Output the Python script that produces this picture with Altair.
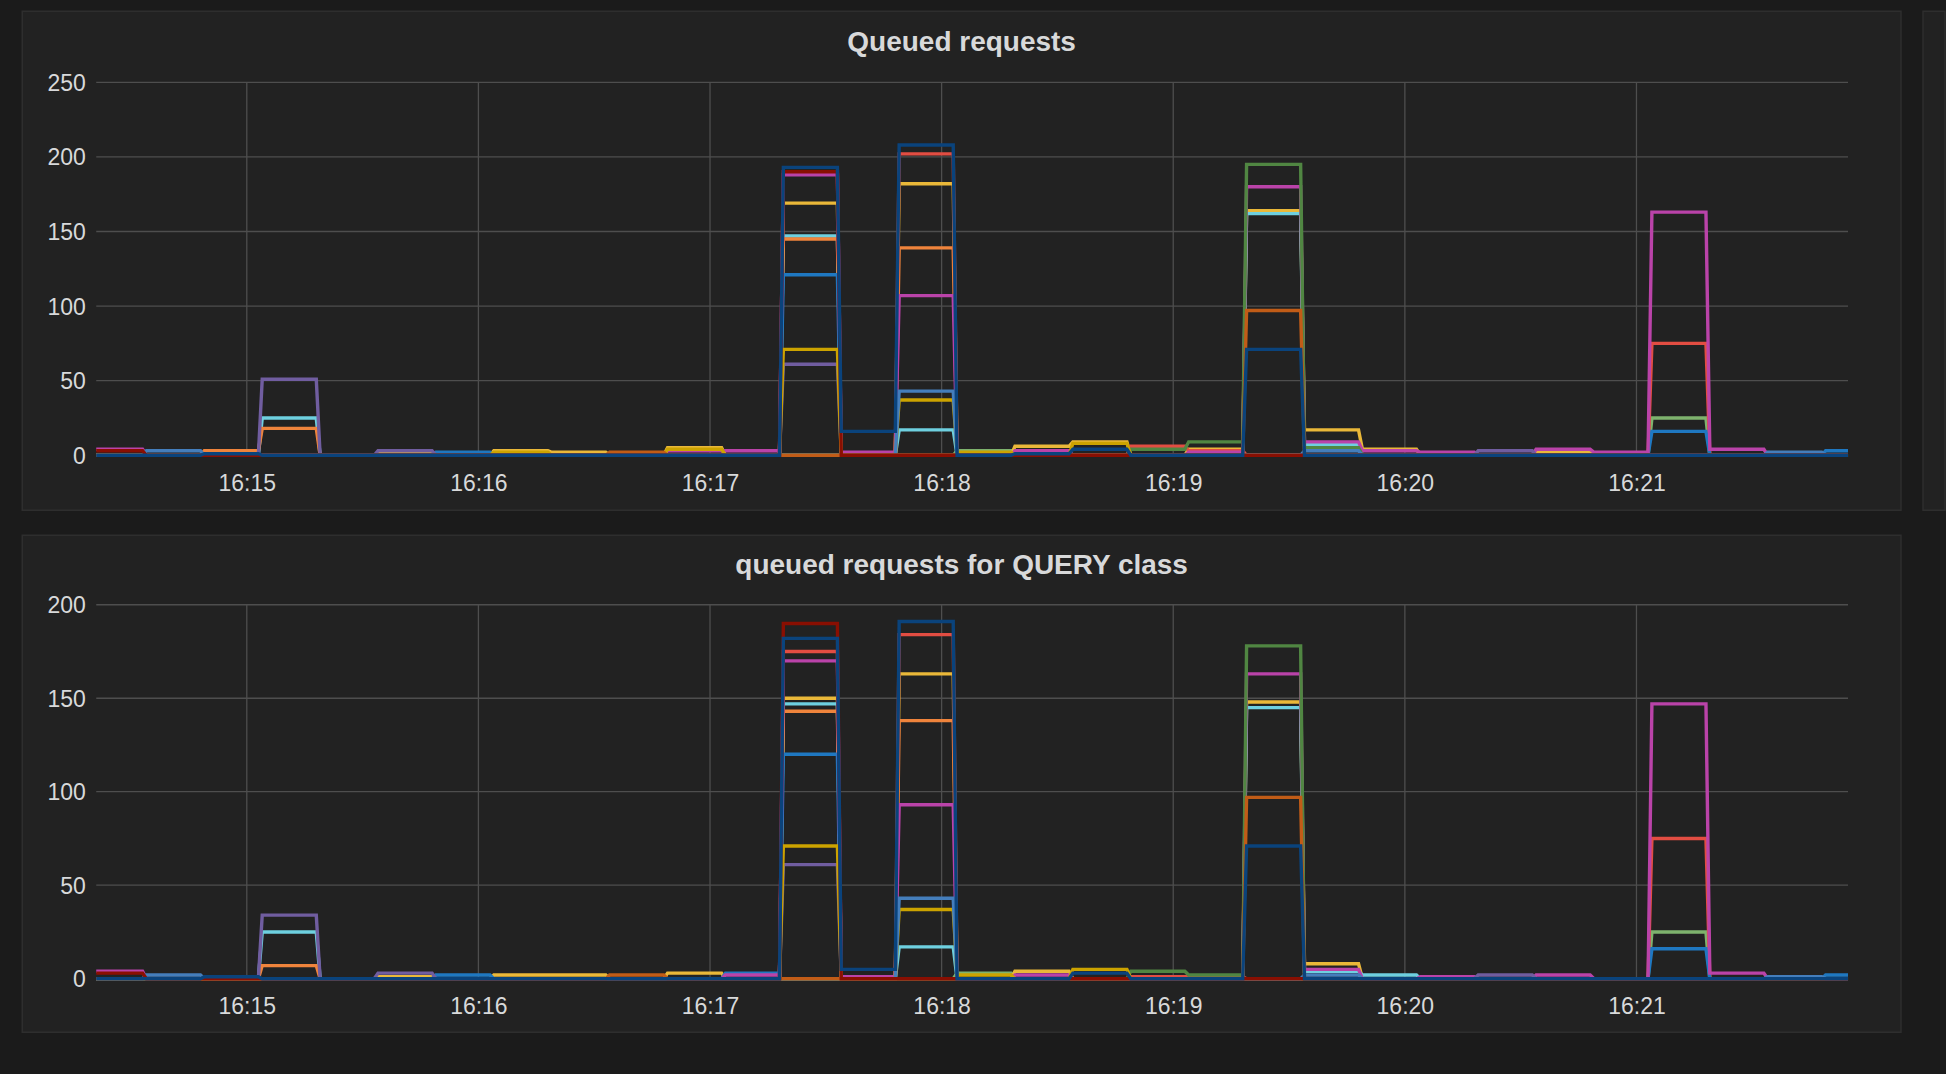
import altair as alt
import pandas as pd
from datetime import datetime, timedelta

# ---------------- data ----------------
SERIES = ["green", "yellow", "light blue", "orange", "red", "blue", "magenta",
          "purple", "dark green", "dark yellow", "steel blue", "dark orange",
          "dark red", "dark blue"]
COLORS = ["#7EB26D", "#EAB839", "#6ED0E0", "#EF843C", "#E24D42", "#1F78C1",
          "#BA43A9", "#705DA0", "#508642", "#CCA300", "#447EBC", "#C15C17",
          "#890F02", "#0A437C"]

# 15-second sample slots (start times)
SLOT_STARTS = ["16:14:18", "16:14:33", "16:14:48", "16:15:03", "16:15:18", "16:15:33",
               "16:15:48", "16:16:03", "16:16:18", "16:16:33", "16:16:48", "16:17:03",
               "16:17:18", "16:17:33", "16:17:48", "16:18:03", "16:18:18", "16:18:33",
               "16:18:48", "16:19:03", "16:19:18", "16:19:33", "16:19:48", "16:20:03",
               "16:20:18", "16:20:33", "16:20:48", "16:21:03", "16:21:18", "16:21:33",
               "16:21:48"]

TITLES = ["Queued requests", "queued requests for QUERY class"]

# Panel 1: Queued requests
TOP_GREEN       = [0,0,0,0,0,0,0,0,0,0,4,0,0,0,0,3,0,0,0,0,0,0,0,0,0,0,0,25,0,0,0]
TOP_YELLOW      = [0,0,0,0,0,1,0,3,2,0,5,0,169,0,182,0,6,9,0,4,164,17,4,0,0,2,0,0,0,0,0]
TOP_LIGHT_BLUE  = [0,0,0,25,0,0,0,0,0,0,0,0,147,0,17,0,0,0,0,0,162,7,0,0,0,0,0,0,0,0,0]
TOP_ORANGE      = [0,0,3,18,0,0,0,0,0,0,0,0,145,0,139,0,0,0,0,0,0,0,0,0,0,0,0,0,0,0,0]
TOP_RED         = [0,0,0,0,0,0,0,0,0,0,0,0,190,0,202,0,0,0,6,3,0,0,0,0,0,0,0,75,0,0,0]
TOP_BLUE        = [0,0,0,0,0,0,2,0,0,0,0,0,121,0,0,0,0,0,0,0,0,0,0,0,0,0,0,16,0,0,3]
TOP_MAGENTA     = [4,0,0,0,0,0,0,0,0,0,3,3,188,2,107,0,3,0,0,2,180,9,3,2,0,4,2,163,4,0,0]
TOP_PURPLE      = [0,0,0,51,0,3,0,0,0,0,0,0,61,0,0,0,0,0,0,0,0,0,0,0,3,0,0,0,0,0,0]
TOP_DARK_GREEN  = [0,0,0,0,0,0,0,0,0,0,0,0,0,0,0,0,0,0,4,9,195,5,0,0,0,0,0,0,0,0,0]
TOP_DARK_YELLOW = [0,0,0,0,0,0,0,2,0,0,4,0,71,0,37,2,0,8,0,0,0,0,0,0,0,0,0,0,0,0,0]
TOP_STEEL_BLUE  = [0,3,0,0,0,0,0,0,0,0,0,0,0,0,43,0,0,0,0,0,0,3,0,0,0,0,0,0,0,2,0]
TOP_DARK_ORANGE = [0,0,0,0,0,0,0,0,0,2,0,0,0,0,0,0,0,0,0,0,97,0,0,0,0,0,0,0,0,0,0]
TOP_DARK_RED    = [3,0,0,0,0,0,0,0,0,0,0,0,190,0,0,0,0,0,0,0,0,0,0,0,0,0,0,0,0,0,0]
TOP_DARK_BLUE   = [0,0,1,0,0,0,0,0,0,0,0,0,193,16,208,0,1,4,0,0,71,0,0,0,0,0,0,0,0,0,0]

# Panel 2: queued requests for QUERY class
BOT_GREEN       = [0,0,0,0,0,0,0,0,0,0,0,0,0,0,0,3,0,0,0,0,0,0,0,0,0,0,0,25,0,0,0]
BOT_YELLOW      = [0,0,0,0,0,1,0,2,2,0,3,0,150,0,163,0,4,0,0,0,148,8,0,0,0,0,0,0,0,0,0]
BOT_LIGHT_BLUE  = [0,0,0,25,0,0,0,0,0,0,0,0,147,0,17,0,0,0,0,0,145,4,2,0,0,0,0,0,0,0,0]
BOT_ORANGE      = [0,0,0,7,0,0,0,0,0,0,0,0,143,0,138,0,0,0,0,0,0,0,0,0,0,0,0,0,0,0,0]
BOT_RED         = [0,0,0,0,0,0,0,0,0,0,0,0,175,0,184,0,0,0,1,1,0,0,0,0,0,0,0,75,0,0,0]
BOT_BLUE        = [0,0,0,0,0,0,2,0,0,0,0,3,120,0,0,0,0,0,0,0,0,0,0,0,0,0,0,16,0,0,2]
BOT_MAGENTA     = [4,0,0,0,0,0,0,0,0,0,0,2,170,1,93,0,2,0,0,0,163,5,0,1,0,2,0,147,3,0,0]
BOT_PURPLE      = [0,0,0,34,0,3,0,0,0,0,0,0,61,0,0,0,0,0,0,0,0,0,0,0,2,0,0,0,0,0,0]
BOT_DARK_GREEN  = [0,0,0,0,0,0,0,0,0,0,0,0,0,0,0,0,0,0,4,2,178,0,0,0,0,0,0,0,0,0,0]
BOT_DARK_YELLOW = [0,0,0,0,0,0,0,0,0,0,0,0,71,0,37,2,0,5,0,0,0,0,0,0,0,0,0,0,0,0,0]
BOT_STEEL_BLUE  = [0,2,0,0,0,0,0,0,0,0,0,0,0,0,43,0,0,0,0,0,0,2,0,0,0,0,0,0,0,1,0]
BOT_DARK_ORANGE = [0,0,0,0,0,0,0,0,0,2,0,0,0,0,0,0,0,0,0,0,97,0,0,0,0,0,0,0,0,0,0]
BOT_DARK_RED    = [3,0,0,0,0,0,0,0,0,0,0,0,190,0,0,0,0,0,0,0,0,0,0,0,0,0,0,0,0,0,0]
BOT_DARK_BLUE   = [0,0,1,0,0,0,0,0,0,0,0,0,182,5,191,0,0,3,0,0,71,0,0,0,0,0,0,0,0,0,0]

TOP_VALUES = [TOP_GREEN, TOP_YELLOW, TOP_LIGHT_BLUE, TOP_ORANGE, TOP_RED, TOP_BLUE,
              TOP_MAGENTA, TOP_PURPLE, TOP_DARK_GREEN, TOP_DARK_YELLOW, TOP_STEEL_BLUE,
              TOP_DARK_ORANGE, TOP_DARK_RED, TOP_DARK_BLUE]
BOT_VALUES = [BOT_GREEN, BOT_YELLOW, BOT_LIGHT_BLUE, BOT_ORANGE, BOT_RED, BOT_BLUE,
              BOT_MAGENTA, BOT_PURPLE, BOT_DARK_GREEN, BOT_DARK_YELLOW, BOT_STEEL_BLUE,
              BOT_DARK_ORANGE, BOT_DARK_RED, BOT_DARK_BLUE]

X_TICKS = ["16:15", "16:16", "16:17", "16:18", "16:19", "16:20", "16:21"]
TOP_Y_TICKS = [0, 50, 100, 150, 200, 250]
BOT_Y_TICKS = [0, 50, 100, 150, 200]

DAY = "2019-01-01"
VIEW_START = datetime(2019, 1, 1, 16, 14, 21, 0)
VIEW_END = datetime(2019, 1, 1, 16, 21, 54, 800000)

# ---------------- build tables ----------------
def iso(t):
    return t.strftime("%Y-%m-%dT%H:%M:%S.%f")[:-3] + "Z"


def build(values):
    rows = []
    for name, vals in zip(SERIES, values):
        assert len(vals) == len(SLOT_STARTS)
        for start, v in zip(SLOT_STARTS, vals):
            s = datetime.strptime(DAY + " " + start, "%Y-%m-%d %H:%M:%S")
            for t in (s + timedelta(seconds=1), s + timedelta(seconds=15)):
                t = min(max(t, VIEW_START), VIEW_END)
                rows.append({"series": name, "t": iso(t), "v": v})
    return pd.DataFrame(rows)


def dt(t):
    return alt.DateTime(year=t.year, month=t.month, date=t.day, hours=t.hour,
                        minutes=t.minute, seconds=t.second,
                        milliseconds=t.microsecond // 1000, utc=True)


x_tick_dates = [datetime.strptime(DAY + " " + s, "%Y-%m-%d %H:%M") for s in X_TICKS]
vgrid_df = pd.DataFrame({"t": [iso(t) for t in x_tick_dates]})

FONT = "Liberation Sans"
TEXT = "#d8d9da"
GRID = "#4e4e4e"
PANEL = "#222222"
BORDER = "#2e2e2e"
OUTER = "#1b1b1b"
W = 1752


def panel(values, title, y_max, y_ticks, height, rect_top, rect_bottom, extra_panel):
    df = build(values)
    xscale = alt.Scale(type="utc", domain=[dt(VIEW_START), dt(VIEW_END)])
    xaxis = alt.Axis(values=[dt(t) for t in x_tick_dates], format="%H:%M", grid=False,
                     domain=False, ticks=False, tickSize=0, labelPadding=17,
                     labelFontSize=23, labelFont=FONT, labelColor=TEXT, title=None,
                     zindex=1, labelFlush=False)
    yscale = alt.Scale(domain=[0, y_max], nice=False, zero=True)
    yaxis = alt.Axis(values=y_ticks, grid=False, domain=False, ticks=False, tickSize=0,
                     labelPadding=11, labelFontSize=23, labelFont=FONT,
                     labelColor=TEXT, title=None, zindex=1, labelOffset=1)

    one = pd.DataFrame({"a": [0]})
    layers = [
        alt.Chart(one).mark_rect(fill=PANEL, stroke=BORDER, strokeWidth=1.5).encode(
            x=alt.value(-74), x2=alt.value(1805),
            y=alt.value(rect_top), y2=alt.value(rect_bottom))
    ]
    if extra_panel:
        layers.append(
            alt.Chart(one).mark_rect(fill=PANEL, stroke=BORDER, strokeWidth=1.5).encode(
                x=alt.value(1827), x2=alt.value(1849),
                y=alt.value(rect_top), y2=alt.value(rect_bottom)))
    # panel title
    layers.append(
        alt.Chart(pd.DataFrame({"title": [title]})).mark_text(
            font=FONT, fontSize=28, fontWeight="bold", color=TEXT,
            align="center", baseline="alphabetic").encode(
            text="title:N", x=alt.value(W / 2 - 10.5), y=alt.value(-31)))
    layers.append(
        alt.Chart(vgrid_df).mark_rule(color=GRID, strokeWidth=1.3).encode(
            x=alt.X("t:T", scale=xscale, axis=xaxis)))
    layers.append(
        alt.Chart(pd.DataFrame({"v": y_ticks})).mark_rule(color=GRID, strokeWidth=1.3).encode(
            y=alt.Y("v:Q", scale=yscale, axis=yaxis)))
    for name, color in zip(SERIES, COLORS):
        layers.append(
            alt.Chart(df).transform_filter(alt.datum.series == name)
            .mark_line(color=color, strokeWidth=3.4)
            .encode(x=alt.X("t:T", scale=xscale, axis=xaxis),
                    y=alt.Y("v:Q", scale=yscale, axis=yaxis)))
    return alt.layer(*layers).properties(width=W, height=height)


top = panel(TOP_VALUES, TITLES[0], 250, TOP_Y_TICKS, 373, -71, 428, True)
bottom = panel(BOT_VALUES, TITLES[1], 200, BOT_Y_TICKS, 374, -69.5, 427.5, False)

chart = alt.vconcat(top, bottom, spacing=22.5).configure(
    background=OUTER,
    padding={"left": 21.25, "top": 10.25, "right": 0, "bottom": 41.5},
).configure_view(stroke=None)

chart.save("out.html", embed_options={"renderer": "svg", "actions": False})
